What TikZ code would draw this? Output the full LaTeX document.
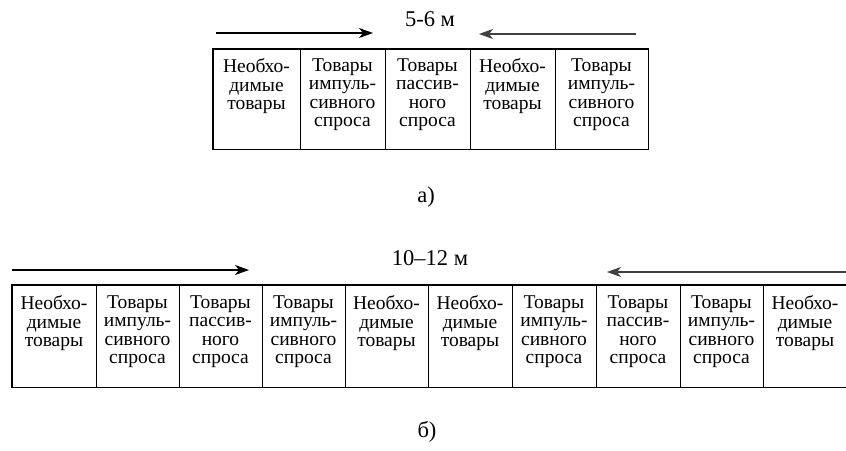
\documentclass[tikz,border=0pt]{standalone}
\usepackage{fontspec}
\setmainfont{Liberation Serif}
\usetikzlibrary{arrows.meta}
\tikzset{
  cell/.style={draw, line width=1pt, inner sep=0pt, minimum height=100pt},
  celltext/.style={anchor=north, inner sep=0pt, align=center, font=\fontsize{19.5}{18.4}\selectfont},
  outer/.style={line width=1.6pt},
  flow/.style={line width=1.1pt, -{Stealth[length=14pt,width=10pt,inset=4pt]}},
  lbl/.style={inner sep=0pt, font=\fontsize{22.5}{26}\selectfont}
}
\newcommand{\NT}{Необхо-\\димые\\товары}
\newcommand{\IT}{Товары\\импуль-\\сивного\\спроса}
\newcommand{\PT}{Товары\\пассив-\\ного\\спроса}
\begin{document}
\begin{tikzpicture}[x=1pt,y=-1pt]
\useasboundingbox (0,0) rectangle (846,450);
% ---- a) ----
\node[lbl] (lab1) at (430,19) {5-6 м};
\coordinate (a1s) at (216,33); \coordinate (a1e) at (373,33);
\coordinate (a2s) at (636,34); \coordinate (a2e) at (479,34);
\draw[flow] (a1s) -- (a1e);
\draw[flow, black!75] (a2s) -- (a2e);
\foreach \i/\l/\r/\t in {1/213/300/\NT, 2/300/385/\IT, 3/385/470/\PT, 4/470/555/\NT, 5/555/648/\IT}{
  \node[cell, minimum width={(\r-\l)*1pt}, minimum height=100pt] (t\i) at ({(\l+\r)/2},99) {};
  \node[celltext] (tt\i) at ([yshift=-10pt]t\i.north) {\t};
}
\draw[outer] (t1.north west) rectangle (t5.south east);
\node[lbl] (capa) at (426,197) {а)};
% ---- b) ----
\node[lbl] (lab2) at (430,258) {10–12 м};
\coordinate (b1s) at (12,270); \coordinate (b1e) at (249,270);
\coordinate (b2s) at (846,272); \coordinate (b2e) at (607,272);
\draw[flow] (b1s) -- (b1e);
\draw[flow, black!75] (b2s) -- (b2e);
\foreach \i/\l/\r/\t in {1/12/96/\NT, 2/96/179/\IT, 3/179/262/\PT, 4/262/345/\IT, 5/345/428/\NT,
                         6/428/512/\NT, 7/512/596/\IT, 8/596/680/\PT, 9/680/763/\IT, 10/763/847/\NT}{
  \node[cell, minimum width={(\r-\l)*1pt}, minimum height=102pt] (b\i) at ({(\l+\r)/2},336) {};
  \node[celltext] (bt\i) at ([yshift=-11pt]b\i.north) {\t};
}
\draw[outer] (b1.north west) rectangle (b10.south east);
\node[lbl] (capb) at (427,432) {б)};
\end{tikzpicture}
\end{document}
